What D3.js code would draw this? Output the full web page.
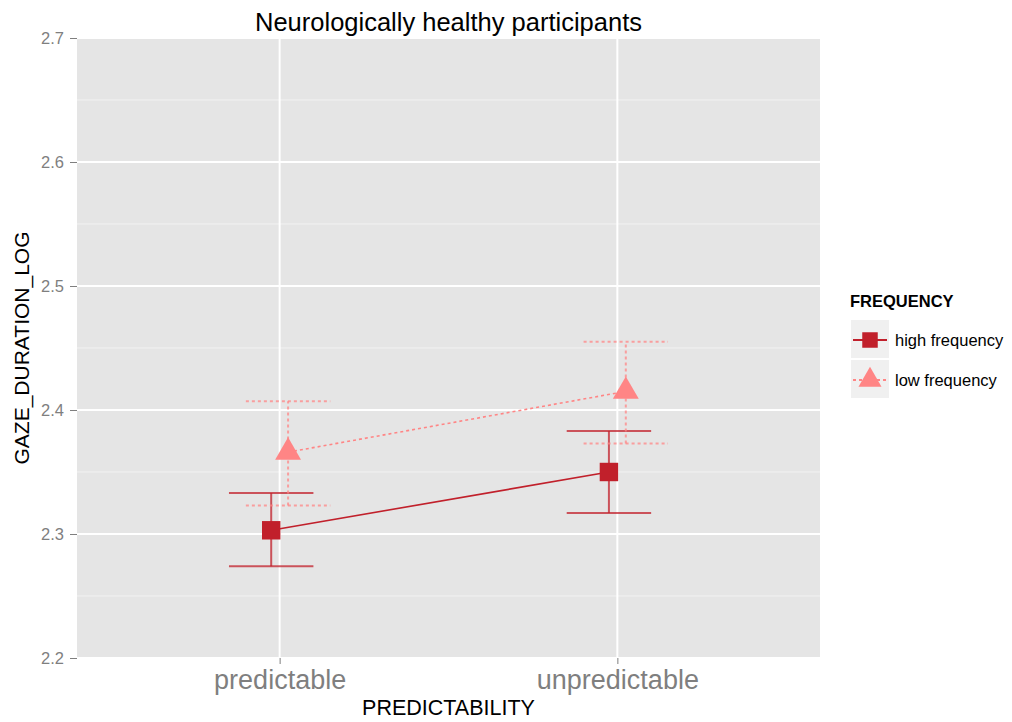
<!DOCTYPE html>
<html>
<head>
<meta charset="utf-8">
<script src="https://cdn.jsdelivr.net/npm/d3@7"></script>
<style>
  body { margin: 0; background: #fff; }
  svg { font-family: "Liberation Sans", Arial, sans-serif; }
</style>
</head>
<body>
<svg id="chart" width="1012" height="722"></svg>
<script>
// data
const categories = ["predictable", "unpredictable"];
const groups = ["high frequency", "low frequency"];
const highMean = [2.303, 2.350];
const highLo = [2.274, 2.317];
const highHi = [2.333, 2.383];
const lowMean = [2.366, 2.415];
const lowLo = [2.323, 2.373];
const lowHi = [2.407, 2.455];
const yTicks = [2.2, 2.3, 2.4, 2.5, 2.6, 2.7];

const colors = { "high frequency": "#C1202B", "low frequency": "#FF8585" };

const margin = { top: 38, right: 192, bottom: 64, left: 77 };
const width = 1012, height = 722;
const svg = d3.select("#chart");

const pw = width - margin.left - margin.right;
const ph = height - margin.top - margin.bottom;

// discrete x scale with ggplot-like expansion
const x = d3.scaleLinear().domain([0.4, 2.6]).range([margin.left, margin.left + pw]);
const y = d3.scaleLinear().domain([2.2, 2.7]).range([margin.top + ph, margin.top]);

const series = [
  { name: groups[0], mean: highMean, lo: highLo, hi: highHi, dodge: -0.025, dash: null, shape: d3.symbolSquare },
  { name: groups[1], mean: lowMean, lo: lowLo, hi: lowHi, dodge: 0.025, dash: "3,3", shape: d3.symbolTriangle }
];

// panel
svg.append("rect")
  .attr("x", margin.left).attr("y", margin.top)
  .attr("width", pw).attr("height", ph)
  .attr("fill", "#E5E5E5");

// minor grid
const minor = d3.range(2.25, 2.7, 0.1);
svg.append("g").selectAll("line").data(minor).join("line")
  .attr("x1", margin.left).attr("x2", margin.left + pw)
  .attr("y1", d => y(d)).attr("y2", d => y(d))
  .attr("stroke", "#F2F2F2").attr("stroke-width", 1);

// major grid
svg.append("g").selectAll("line").data(yTicks).join("line")
  .attr("x1", margin.left).attr("x2", margin.left + pw)
  .attr("y1", d => y(d)).attr("y2", d => y(d))
  .attr("stroke", "#fff").attr("stroke-width", 2);
svg.append("g").selectAll("line").data(categories).join("line")
  .attr("x1", (d, i) => x(i + 1)).attr("x2", (d, i) => x(i + 1))
  .attr("y1", margin.top).attr("y2", margin.top + ph)
  .attr("stroke", "#fff").attr("stroke-width", 2);

// y axis
const yAxis = svg.append("g")
  .attr("transform", "translate(" + margin.left + ",0)")
  .call(d3.axisLeft(y).tickValues(yTicks).tickFormat(d3.format(".1f")).tickSize(7).tickPadding(6));
yAxis.select(".domain").remove();
yAxis.selectAll("line").attr("stroke", "#7F7F7F");
yAxis.selectAll("text").attr("fill", "#7F7F7F").style("font-size", "16.5px");

// x axis
const xAxis = svg.append("g")
  .attr("transform", "translate(0," + (margin.top + ph) + ")")
  .call(d3.axisBottom(x).tickValues([1, 2]).tickFormat(d => categories[d - 1]).tickSize(6).tickPadding(6));
xAxis.select(".domain").remove();
xAxis.selectAll("line").attr("stroke", "#7F7F7F");
xAxis.selectAll("text").attr("fill", "#7F7F7F").style("font-size", "27px");

// error bars, lines, points
const errW = 0.125;
series.forEach(s => {
  const g = svg.append("g");
  const col = colors[s.name];
  const xs = s.mean.map((m, i) => i + 1 + s.dodge);

  // vertical bars
  g.selectAll(".v").data(s.mean).join("line")
    .attr("x1", (d, i) => x(xs[i])).attr("x2", (d, i) => x(xs[i]))
    .attr("y1", (d, i) => y(s.lo[i])).attr("y2", (d, i) => y(s.hi[i]))
    .attr("stroke", col).attr("stroke-width", 2).attr("stroke-opacity", 0.75)
    .attr("stroke-dasharray", s.dash);
  // caps
  ["lo", "hi"].forEach(k => {
    g.selectAll(".c" + k).data(s[k]).join("line")
      .attr("x1", (d, i) => x(xs[i] - errW)).attr("x2", (d, i) => x(xs[i] + errW))
      .attr("y1", d => y(d)).attr("y2", d => y(d))
      .attr("stroke", col).attr("stroke-width", 2).attr("stroke-opacity", 0.75)
      .attr("stroke-dasharray", s.dash);
  });

  // connecting line
  g.append("path")
    .datum(s.mean)
    .attr("d", d3.line().x((d, i) => x(xs[i])).y(d => y(d)))
    .attr("fill", "none").attr("stroke", col).attr("stroke-width", 1.6)
    .attr("stroke-dasharray", s.dash);

  // points
  const size = s.shape === d3.symbolSquare ? 340 : 290;
  g.selectAll(".p").data(s.mean).join("path")
    .attr("transform", (d, i) => "translate(" + x(xs[i]) + "," + y(d) + ")")
    .attr("d", d3.symbol().type(s.shape).size(size))
    .attr("fill", col);
});

// title and axis labels
svg.append("text")
  .attr("x", margin.left + pw / 2).attr("y", 31)
  .attr("text-anchor", "middle").style("font-size", "25.5px").attr("fill", "#000")
  .text("Neurologically healthy participants");
svg.append("text")
  .attr("x", margin.left + pw / 2).attr("y", 715)
  .attr("text-anchor", "middle").style("font-size", "21.5px").attr("fill", "#000")
  .text("PREDICTABILITY");
svg.append("text")
  .attr("transform", "translate(29," + (margin.top + ph / 2) + ") rotate(-90)")
  .attr("text-anchor", "middle").style("font-size", "21px").attr("fill", "#000")
  .text("GAZE_DURATION_LOG");

// legend
const lg = svg.append("g").attr("transform", "translate(850,0)");
lg.append("text").attr("x", 0).attr("y", 307)
  .style("font-size", "16.5px").style("font-weight", "bold").text("FREQUENCY");
series.forEach((s, i) => {
  const top = 320 + i * 40;
  const col = colors[s.name];
  lg.append("rect").attr("x", 1).attr("y", top).attr("width", 38).attr("height", 38).attr("fill", "#F0F0F0");
  lg.append("line").attr("x1", 3).attr("x2", 37).attr("y1", top + 20).attr("y2", top + 20)
    .attr("stroke", col).attr("stroke-width", 2).attr("stroke-dasharray", s.dash);
  lg.append("path").attr("transform", "translate(20," + (top + 20) + ")")
    .attr("d", d3.symbol().type(s.shape).size(s.shape === d3.symbolSquare ? 240 : 230))
    .attr("fill", col);
  lg.append("text").attr("x", 45).attr("y", top + 26)
    .style("font-size", "16.5px").text(s.name);
});
</script>
</body>
</html>
